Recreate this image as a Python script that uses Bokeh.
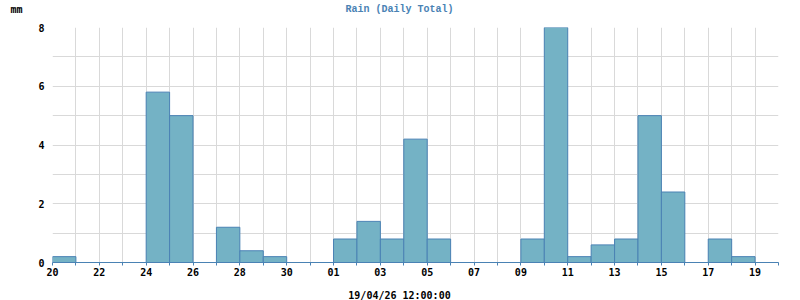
from bokeh.plotting import figure
from bokeh.layouts import column
from bokeh.models import FixedTicker, Range1d
from bokeh.core.properties import value
from bokeh.embed import file_html
from bokeh.resources import INLINE

days = ["20", "21", "22", "23", "24", "25", "26", "27", "28", "29", "30", "31",
        "01", "02", "03", "04", "05", "06", "07", "08", "09", "10", "11", "12",
        "13", "14", "15", "16", "17", "18", "19"]
rain = [0.2, 0, 0, 0, 5.8, 5.0, 0, 1.2, 0.4, 0.2, 0, 0,
        0.8, 1.4, 0.8, 4.2, 0.8, 0, 0, 0, 0.8, 8.0, 0.2, 0.6,
        0.8, 5.0, 2.4, 0, 0.8, 0.2, 0]
y_ticks = [0, 2, 4, 6, 8]
y_minor = [1, 3, 5, 7]
title_text = "Rain (Daily Total)"
y_unit = "mm"
x_title = "19/04/26 12:00:00"

BLUE = "#4a82b4"
FILL = "#74b2c5"
GRID = "#d9d9d9"
FONT = "DejaVu Sans Mono"


def strip(h):
    f = figure(width=800, height=h, output_backend="svg", toolbar_location=None,
               x_range=Range1d(0, 800), y_range=Range1d(h, 0),
               x_axis_type=None, y_axis_type=None, min_border=0)
    f.frame_align = False
    f.outline_line_color = None
    f.grid.visible = False
    return f


# --- header strip (unit + title) ---
head = strip(20)
head.text(x=[10], y=[9], text=[y_unit], text_align="left", text_baseline="alphabetic",
          text_font=value(FONT), text_font_style="bold", text_font_size="10px",
          text_color="black")
head.text(x=[399], y=[9], text=[title_text], text_align="center", text_baseline="alphabetic",
          text_font=value("Liberation Mono"), text_font_style="bold", text_font_size="10px",
          text_color=BLUE)

# --- main chart ---
n = len(days)
p = figure(width=800, height=260, output_backend="svg", toolbar_location=None,
           x_range=Range1d(0, n), y_range=Range1d(0, 8),
           min_border_left=52, min_border_right=22, min_border_top=7,
           min_border_bottom=18)
p.frame_align = False
p.outline_line_color = None

lefts = list(range(n))
rights = [i + 1 for i in lefts]
p.quad(left=lefts, right=rights, bottom=0, top=rain,
       fill_color=FILL, line_color=BLUE, line_width=1)

p.xaxis.ticker = FixedTicker(ticks=list(range(n + 1)))
p.xaxis.major_label_overrides = {i: (days[i] if (i % 2 == 0 and i < n) else "") for i in range(n + 1)}
p.xaxis.axis_line_color = BLUE
p.xaxis.major_tick_line_color = BLUE
p.xaxis.major_tick_out = 3
p.xaxis.major_tick_in = 0
p.xaxis.minor_tick_line_color = None
p.xaxis.major_label_text_font = FONT
p.xaxis.major_label_text_font_style = "bold"
p.xaxis.major_label_text_font_size = "10px"
p.xaxis.major_label_text_color = "black"
p.xaxis.major_label_standoff = 2

p.yaxis.ticker = FixedTicker(ticks=y_ticks, minor_ticks=y_minor)
p.yaxis.axis_line_color = None
p.yaxis.major_tick_line_color = None
p.yaxis.minor_tick_line_color = None
p.yaxis.major_label_text_font = FONT
p.yaxis.major_label_text_font_style = "bold"
p.yaxis.major_label_text_font_size = "10px"
p.yaxis.major_label_text_color = "black"
p.yaxis.major_label_standoff = 2

p.xgrid.grid_line_color = GRID
p.ygrid.grid_line_color = GRID
p.ygrid.minor_grid_line_color = GRID

# --- footer strip (date/time) ---
foot = strip(20)
foot.text(x=[399], y=[15], text=[x_title], text_align="center", text_baseline="alphabetic",
          text_font=value(FONT), text_font_style="bold", text_font_size="10px",
          text_color="black")

layout = column(head, p, foot, spacing=0)
open("out.html", "w").write(file_html(layout, INLINE))
